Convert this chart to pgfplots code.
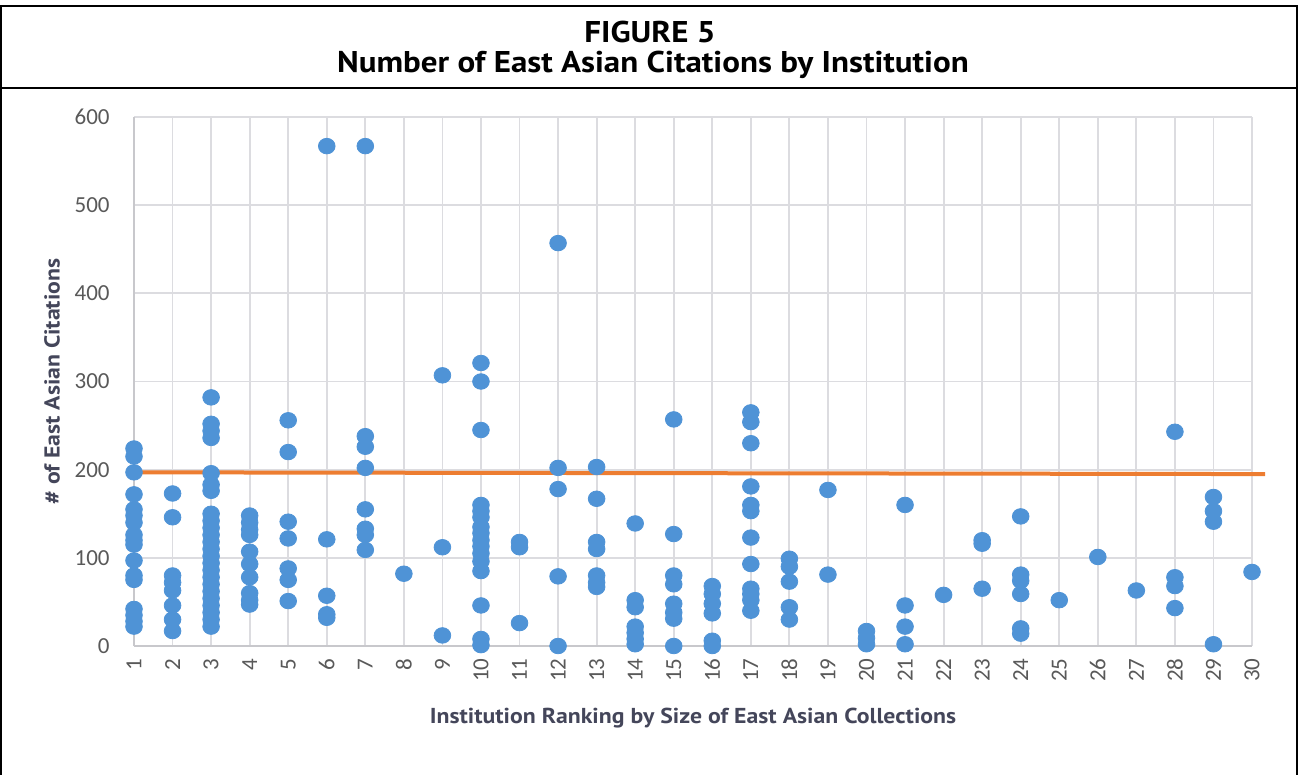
\documentclass[border=0pt]{standalone}
\usepackage{fontspec}
\setmainfont{Carlito}
\newfontfamily\ptsans{PT Sans}[FakeStretch=1.1]
\usepackage{pgfplots}
\pgfplotsset{compat=1.18}
\usepackage{pgfplotstable}
\definecolor{dotblue}{HTML}{4F93D6}
\definecolor{trendorange}{HTML}{ED7D31}
\definecolor{gridgray}{HTML}{DCDCE0}
\definecolor{axisgray}{HTML}{C8C8CC}
\definecolor{ticktext}{HTML}{595959}
\definecolor{labeltext}{HTML}{44465A}

\pgfplotstableread{
x y
1 224
1 215
1 197
1 172
1 155
1 148
1 140
1 126
1 120
1 115
1 97
1 80
1 75
1 42
1 35
1 28
1 22
2 173
2 146
2 80
2 72
2 63
2 46
2 30
2 17
3 282
3 252
3 244
3 236
3 196
3 183
3 176
3 150
3 142
3 134
3 126
3 118
3 110
3 102
3 94
3 86
3 78
3 70
3 62
3 54
3 46
3 38
3 30
3 22
4 148
4 140
4 132
4 126
4 107
4 93
4 78
4 60
4 52
4 47
5 256
5 220
5 141
5 122
5 88
5 75
5 51
6 567
6 121
6 57
6 36
6 32
7 567
7 238
7 226
7 202
7 155
7 133
7 126
7 109
8 82
9 307
9 112
9 12
10 321
10 300
10 245
10 160
10 153
10 146
10 135
10 128
10 120
10 113
10 105
10 96
10 85
10 46
10 8
10 1
11 118
11 112
11 26
12 457
12 202
12 178
12 79
12 0
13 203
13 167
13 118
13 110
13 80
13 72
13 67
14 139
14 52
14 44
14 22
14 15
14 8
14 2
15 257
15 127
15 80
15 70
15 48
15 38
15 31
15 0
16 68
16 59
16 48
16 37
16 6
16 0
17 265
17 254
17 230
17 181
17 160
17 153
17 123
17 93
17 65
17 59
17 52
17 40
18 99
18 90
18 73
18 44
18 30
19 177
19 81
20 17
20 9
20 2
21 160
21 46
21 22
21 2
22 58
23 120
23 116
23 65
24 147
24 81
24 74
24 59
24 20
24 14
25 52
26 101
27 63
28 243
28 78
28 68
28 43
29 169
29 153
29 141
29 2
30 84
}\citations

\begin{document}
\begin{tikzpicture}
\path[use as bounding box] (0,0) rectangle (649.5pt,-387.5pt);
% frame
\draw[line width=1pt] (0.6pt,-387.5pt) -- (0.6pt,-3pt) -- (648.7pt,-3pt) -- (648.7pt,-387.5pt);
\draw[line width=1pt] (0.6pt,-44pt) -- (648.7pt,-44pt);
\node[font=\ptsans\bfseries\fontsize{15}{17}\selectfont] at (325pt,-16pt) {FIGURE 5};
\node[font=\ptsans\bfseries\fontsize{15}{17}\selectfont] at (326.5pt,-32.5pt) {Number of East Asian Citations by Institution};

\begin{axis}[
  at={(67pt,-323pt)}, anchor=south west,
  scale only axis, width=559pt, height=264.5pt,
  xmin=1, xmax=30, ymin=0, ymax=600,
  xtick={1,...,30}, ytick={0,100,...,600},
  axis lines*=left,
  axis line style={-, draw=axisgray, line width=1pt},
  grid=major,
  major grid style={draw=gridgray, line width=0.9pt},
  major tick length=0pt,
  /pgf/number format/assume math mode=true,
  tick label style={font=\fontsize{11.5}{12}\selectfont, text=ticktext},
  xticklabel style={rotate=90, anchor=east, inner sep=0pt},
  xticklabel shift=6pt,
  yticklabel style={anchor=east, inner sep=0pt},
  yticklabel shift=12pt,
  xlabel={Institution Ranking by Size of East Asian Collections},
  ylabel={\# of East Asian Citations},
  xlabel style={at={(axis description cs:0.5,-0.136)}, anchor=center, font=\ptsans\bfseries\fontsize{10.8}{12}\selectfont, text=labeltext},
  ylabel style={at={(axis description cs:-0.0733,0.5)}, anchor=center, font=\ptsans\bfseries\fontsize{10.8}{12}\selectfont, text=labeltext},
  clip=false,
]
\addplot[only marks, mark=*, mark size=3.9pt, mark options={draw=dotblue, fill=dotblue, xscale=1.07}] table[x=x, y=y] {\citations};
\addplot[trendorange, line width=2pt] coordinates {(0.84,197) (30.34,195)};
\end{axis}
\end{tikzpicture}
\end{document}
